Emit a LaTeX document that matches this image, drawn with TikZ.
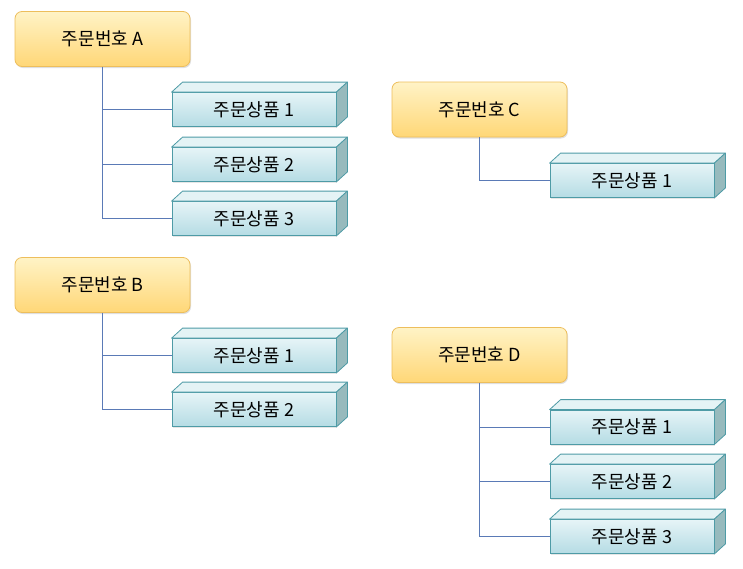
\documentclass[tikz,border=0pt]{standalone}
\usepackage{fontspec}
\newfontfamily\krfont{Noto Sans CJK KR}
\usetikzlibrary{shadows}
\definecolor{ordtop}{HTML}{FFF3C6}
\definecolor{ordbot}{HTML}{FFD777}
\definecolor{ordedge}{HTML}{EDBE5C}
\definecolor{prodtop}{HTML}{E6F4F7}
\definecolor{prodbot}{HTML}{B5DCE4}
\definecolor{prodedge}{HTML}{4E9BA6}
\definecolor{prodlid}{HTML}{E4F3F5}
\definecolor{prodside}{HTML}{97BABD}
\definecolor{linkcol}{HTML}{5A7AB6}
\tikzset{
  order/.style={draw=ordedge, line width=0.8pt, rounded corners=7pt,
    top color=ordtop, bottom color=ordbot,
    minimum width=175pt, minimum height=55pt, inner sep=0pt,
    font=\krfont\fontsize{18}{20}\selectfont,
    drop shadow={opacity=0.25, shadow xshift=1pt, shadow yshift=-1.5pt}},
  prod/.style={draw=prodedge, line width=0.8pt,
    top color=prodtop, bottom color=prodbot,
    minimum width=164pt, minimum height=34pt, inner sep=0pt,
    font=\krfont\fontsize{18}{20}\selectfont,
    drop shadow={opacity=0.2, shadow xshift=1pt, shadow yshift=-1.5pt}},
  lid/.style={draw=prodedge, line width=0.8pt, fill=prodlid, line join=round},
  side/.style={draw=prodedge, line width=0.8pt, fill=prodside, line join=round},
  link/.style={draw=linkcol, line width=0.8pt}
}
% 3d product box: name, centre, text
\newcommand\prodbox[3]{%
  \node[prod] (#1) at (#2) {#3};
  \draw[lid] (#1.north west) -- ++(11,-10) -- ([shift={(11,-10)}]#1.north east) -- (#1.north east) -- cycle;
  \draw[side] (#1.north east) -- ++(11,-10) -- ([shift={(11,-10)}]#1.south east) -- (#1.south east) -- cycle;
}
\begin{document}
\begin{tikzpicture}
    [x=1pt,y=-1pt]
    \useasboundingbox (0,0) rectangle (743,568);
    %orders
    \node[order] (oA) at (102.5,39) {주문번호 A};
    \node[order] (oB) at (102.5,285) {주문번호 B};
    \node[order] (oC) at (479.5,109.5) {주문번호 C};
    \node[order] (oD) at (479.5,355) {주문번호 D};
    %products of A
    \prodbox{a1}{254,109.5}{주문상품 1}
    \prodbox{a2}{254,164.5}{주문상품 2}
    \prodbox{a3}{254,218.5}{주문상품 3}
    %products of B
    \prodbox{b1}{254,355.5}{주문상품 1}
    \prodbox{b2}{254,409.5}{주문상품 2}
    %products of C
    \prodbox{c1}{632,180.5}{주문상품 1}
    %products of D
    \prodbox{d1}{632,427}{주문상품 1}
    \prodbox{d2}{632,481.5}{주문상품 2}
    \prodbox{d3}{632,536.5}{주문상품 3}
    %lines
    \draw[link] (oA.south) |- (a1.west);
    \draw[link] (oA.south) |- (a2.west);
    \draw[link] (oA.south) |- (a3.west);
    \draw[link] (oB.south) |- (b1.west);
    \draw[link] (oB.south) |- (b2.west);
    \draw[link] (oC.south) |- (c1.west);
    \draw[link] (oD.south) |- (d1.west);
    \draw[link] (oD.south) |- (d2.west);
    \draw[link] (oD.south) |- (d3.west);
\end{tikzpicture}
\end{document}
